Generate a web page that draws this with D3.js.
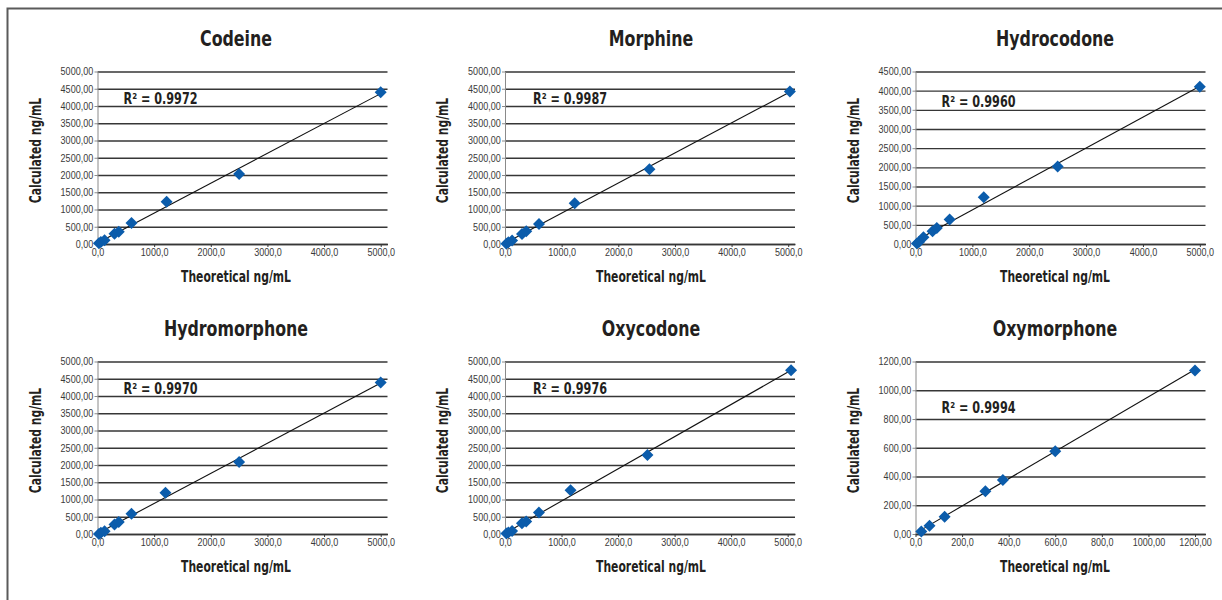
<!DOCTYPE html>
<html lang="en">
<head>
    <meta charset="UTF-8">
    <title>Calibration curves</title>
    <script src="https://cdnjs.cloudflare.com/ajax/libs/d3/7.8.5/d3.min.js"></script>
    <style>
        body {
            margin: 0;
            background: #fff;
        }
        svg {
            font-family: "Liberation Sans Narrow", "Arial Narrow", "DejaVu Sans Condensed", sans-serif;
        }
        .title {
            font-size: 22px;
            font-weight: bold;
            fill: #231f20;
            text-anchor: middle;
        }
        .axis-label {
            font-size: 15px;
            font-weight: bold;
            fill: #231f20;
            text-anchor: middle;
        }
        .r2 {
            font-size: 16px;
            font-weight: bold;
            fill: #231f20;
        }
        .tick text {
            font-size: 10.5px;
            fill: #3a3a3a;
        }
        .grid line {
            stroke: #363636;
            stroke-width: 1.3;
        }
        .grid path {
            stroke-width: 0;
        }
    </style>
</head>
<body>
    <div id="chart"></div>

    <script>
        // Panel names and fitted R² values
        const drugs = ["Codeine", "Morphine", "Hydrocodone", "Hydromorphone", "Oxycodone", "Oxymorphone"];
        const rSquared = ["0.9972", "0.9987", "0.9960", "0.9970", "0.9976", "0.9994"];

        // Theoretical (x) vs calculated (y) ng/mL
        const codeineX = [25, 60, 125, 300, 375, 600, 1220, 2500, 5000];
        const codeineY = [20, 55, 110, 300, 355, 610, 1225, 2030, 4400];
        const morphineX = [25, 60, 125, 300, 375, 600, 1230, 2550, 5030];
        const morphineY = [10, 50, 100, 290, 370, 580, 1180, 2165, 4420];
        const hydrocodoneX = [25, 60, 140, 300, 375, 600, 1200, 2500, 5000];
        const hydrocodoneY = [15, 55, 175, 330, 418, 637, 1222, 2020, 4105];
        const hydromorphoneX = [25, 60, 125, 300, 375, 600, 1200, 2500, 5000];
        const hydromorphoneY = [0, 35, 80, 275, 350, 585, 1195, 2090, 4390];
        const oxycodoneX = [25, 60, 125, 300, 375, 600, 1160, 2520, 5060];
        const oxycodoneY = [15, 45, 85, 310, 360, 620, 1270, 2290, 4745];
        const oxymorphoneX = [25, 60, 125, 300, 375, 600, 1200];
        const oxymorphoneY = [18, 58, 120, 298, 376, 576, 1137];

        // Tick values and labels
        const yTicks5000 = [0, 500, 1000, 1500, 2000, 2500, 3000, 3500, 4000, 4500, 5000];
        const yTicks4500 = [0, 500, 1000, 1500, 2000, 2500, 3000, 3500, 4000, 4500];
        const yTicks1200 = [0, 200, 400, 600, 800, 1000, 1200];
        const xTicks5000 = [0, 1000, 2000, 3000, 4000, 5000];
        const xLabels5000 = ["0,0", "1000,0", "2000,0", "3000,0", "4000,0", "5000,0"];
        const xTicks1200 = [0, 200, 400, 600, 800, 1000, 1200];
        const xLabels1200 = ["0,0", "200,0", "400,0", "600,0", "800,0", "1000,00", "1200,00"];

        const panels = [
            {xs: codeineX, ys: codeineY, xMax: 5120, xTicks: xTicks5000, xLabels: xLabels5000, yTicks: yTicks5000},
            {xs: morphineX, ys: morphineY, xMax: 5120, xTicks: xTicks5000, xLabels: xLabels5000, yTicks: yTicks5000},
            {xs: hydrocodoneX, ys: hydrocodoneY, xMax: 5100, xTicks: xTicks5000, xLabels: xLabels5000, yTicks: yTicks4500},
            {xs: hydromorphoneX, ys: hydromorphoneY, xMax: 5120, xTicks: xTicks5000, xLabels: xLabels5000, yTicks: yTicks5000},
            {xs: oxycodoneX, ys: oxycodoneY, xMax: 5130, xTicks: xTicks5000, xLabels: xLabels5000, yTicks: yTicks5000},
            {xs: oxymorphoneX, ys: oxymorphoneY, xMax: 1245, xTicks: xTicks1200, xLabels: xLabels1200, yTicks: yTicks1200}
        ];

        // Layout of the 3 x 2 grid
        const colLeft = [97.5, 505, 915.5];
        const rowTop = [71.5, 361.5];
        const plotW = 290;
        const plotH = 172.5;
        const titleX = [236, 651, 1055];
        const r2Dy = [32.5, 32.5, 35, 32, 32, 51];
        const r2Dx = [26, 28, 26, 26, 28, 26];
        const squeeze = 0.8;   // the original type is a condensed face

        const svg = d3.select("#chart")
            .append("svg")
            .attr("width", 1222)
            .attr("height", 600);

        // page frame (top and left edges only)
        svg.append("path")
            .attr("d", "M7.5,600 V8.5 H1222")
            .attr("fill", "none")
            .attr("stroke", "#5a5a5a")
            .attr("stroke-width", 2);

        const diamond = d3.symbol().type(d3.symbolSquare).size(72);

        panels.forEach((p, i) => {
            const col = i % 3, row = Math.floor(i / 3);
            const left = colLeft[col], top = rowTop[row];
            const yMax = d3.max(p.yTicks);

            const x = d3.scaleLinear().domain([0, p.xMax]).range([0, plotW]);
            const y = d3.scaleLinear().domain([0, yMax]).range([plotH, 0]);

            const g = svg.append("g").attr("transform", `translate(${left},${top})`);

            // horizontal grid lines
            g.append("g")
                .attr("class", "grid")
                .call(d3.axisLeft(y).tickValues(p.yTicks).tickSize(-plotW).tickFormat(""));

            // y axis
            const ya = g.append("g")
                .call(d3.axisLeft(y)
                    .tickValues(p.yTicks)
                    .tickSize(3)
                    .tickSizeOuter(0)
                    .tickPadding(2)
                    .tickFormat(d => d3.format(".2f")(d).replace(".", ",")));
            ya.select(".domain").attr("stroke", "#8a8a8a");
            ya.selectAll(".tick line").attr("stroke", "#8a8a8a");
            ya.selectAll(".tick text").attr("transform", "scale(0.86,1)");

            // x axis
            const xa = g.append("g")
                .attr("transform", `translate(0,${plotH})`)
                .call(d3.axisBottom(x)
                    .tickValues(p.xTicks)
                    .tickSize(3)
                    .tickSizeOuter(0)
                    .tickPadding(2)
                    .tickFormat((d, k) => p.xLabels[k]));
            xa.select(".domain").attr("stroke", "#363636").attr("stroke-width", 1.3);
            xa.selectAll(".tick line").attr("stroke", "#363636");
            xa.selectAll(".tick text").attr("transform", "scale(0.86,1)");

            // linear trend line (least squares)
            const pts = p.xs.map((v, k) => [v, p.ys[k]]);
            const mx = d3.mean(pts, d => d[0]), my = d3.mean(pts, d => d[1]);
            const slope = d3.sum(pts, d => (d[0] - mx) * (d[1] - my)) / d3.sum(pts, d => (d[0] - mx) ** 2);
            const icpt = my - slope * mx;
            const x0 = d3.min(p.xs), x1 = d3.max(p.xs);
            g.append("line")
                .attr("x1", x(x0)).attr("y1", y(icpt + slope * x0))
                .attr("x2", x(x1)).attr("y2", y(icpt + slope * x1))
                .attr("stroke", "#111")
                .attr("stroke-width", 1.1);

            // markers
            g.selectAll(".pt")
                .data(pts)
                .enter().append("path")
                .attr("class", "pt")
                .attr("d", diamond)
                .attr("fill", "#0b5cab")
                .attr("transform", d => `translate(${x(d[0])},${y(d[1])}) rotate(45)`);

            // R² label
            g.append("text")
                .attr("class", "r2")
                .attr("transform", `translate(${r2Dx[i]},${r2Dy[i]}) scale(0.78,1)`)
                .text(`R² = ${rSquared[i]}`);

            // titles and axis names
            svg.append("text")
                .attr("class", "title")
                .attr("transform", `translate(${titleX[col]},${top - 26}) scale(${squeeze},1)`)
                .text(drugs[i]);

            svg.append("text")
                .attr("class", "axis-label")
                .attr("transform", `translate(${titleX[col]},${top + plotH + 38}) scale(${squeeze},1)`)
                .text("Theoretical ng/mL");

            svg.append("text")
                .attr("class", "axis-label")
                .attr("transform", `translate(${left - 57},${top + 79}) rotate(-90) scale(${squeeze},1)`)
                .text("Calculated ng/mL");
        });
    </script>
</body>
</html>
